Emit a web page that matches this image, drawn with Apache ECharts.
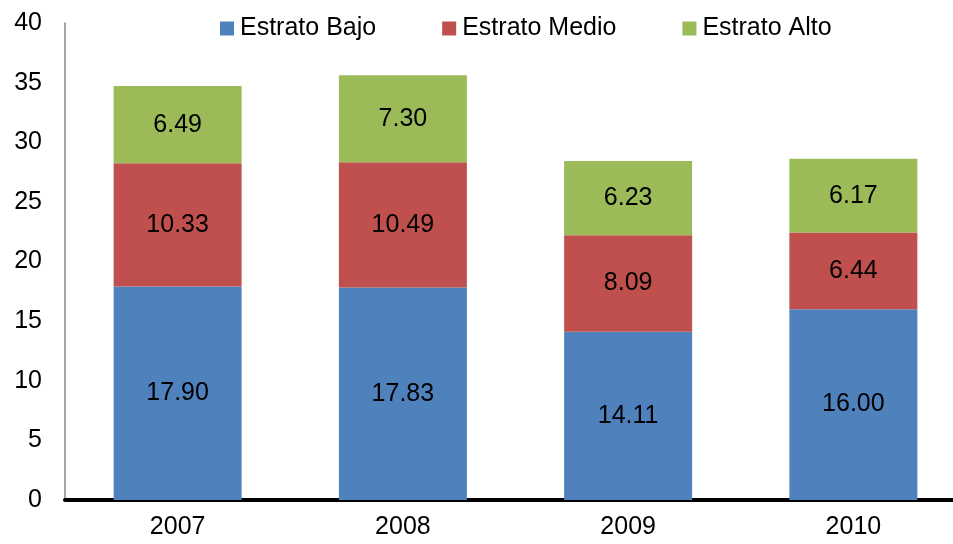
<!DOCTYPE html>
<html>
<head>
<meta charset="utf-8">
<script src="https://cdn.jsdelivr.net/npm/echarts@6/dist/echarts.min.js"></script>
<style>
  html, body { margin: 0; padding: 0; background: #fff; overflow: hidden; }
  #chart { width: 966px; height: 544px; }
</style>
</head>
<body>
<div id="chart"></div>
<script>
// Years on the x axis
const years = ['2007', '2008', '2009', '2010'];

// Stacked values per social stratum
const estratoBajo  = [17.90, 17.83, 14.11, 16.00];
const estratoMedio = [10.33, 10.49, 8.09, 6.44];
const estratoAlto  = [6.49, 7.30, 6.23, 6.17];

const seriesNames = ['Estrato Bajo', 'Estrato Medio', 'Estrato Alto'];
const seriesColors = ['#4F81BD', '#C0504D', '#9BBB59'];

const font = 'Arial, "Liberation Sans", sans-serif';

function barSeries(name, data, color) {
  return {
    name: name,
    type: 'bar',
    stack: 'total',
    data: data,
    barWidth: 128,
    itemStyle: { color: color },
    label: {
      show: true,
      position: 'inside',
      color: '#000',
      fontSize: 25,
      fontFamily: font,
      formatter: p => p.value.toFixed(2)
    }
  };
}

const chart = echarts.init(document.getElementById('chart'));
chart.setOption({
  animation: false,
  backgroundColor: '#fff',
  grid: { left: 65, right: 0, top: 23, bottom: 44 },
  legend: {
    data: seriesNames,
    icon: 'rect',
    left: 215,
    top: 11,
    itemWidth: 14,
    itemHeight: 14,
    itemGap: 66,
    textStyle: { fontSize: 25, fontFamily: font, color: '#000', padding: [0, 0, 0, 1] }
  },
  xAxis: {
    type: 'category',
    data: years,
    axisLine: { lineStyle: { color: '#000', width: 4 } },
    axisTick: { show: false },
    axisLabel: { fontSize: 25, fontFamily: font, color: '#000', margin: 15 }
  },
  yAxis: {
    type: 'value',
    min: 0,
    max: 40,
    interval: 5,
    axisLine: { show: true, lineStyle: { color: '#888', width: 1.5 } },
    axisTick: { show: false },
    splitLine: { show: false },
    axisLabel: { fontSize: 25, fontFamily: font, color: '#000', margin: 23 }
  },
  series: [
    barSeries(seriesNames[0], estratoBajo, seriesColors[0]),
    barSeries(seriesNames[1], estratoMedio, seriesColors[1]),
    barSeries(seriesNames[2], estratoAlto, seriesColors[2])
  ]
});
</script>
</body>
</html>
